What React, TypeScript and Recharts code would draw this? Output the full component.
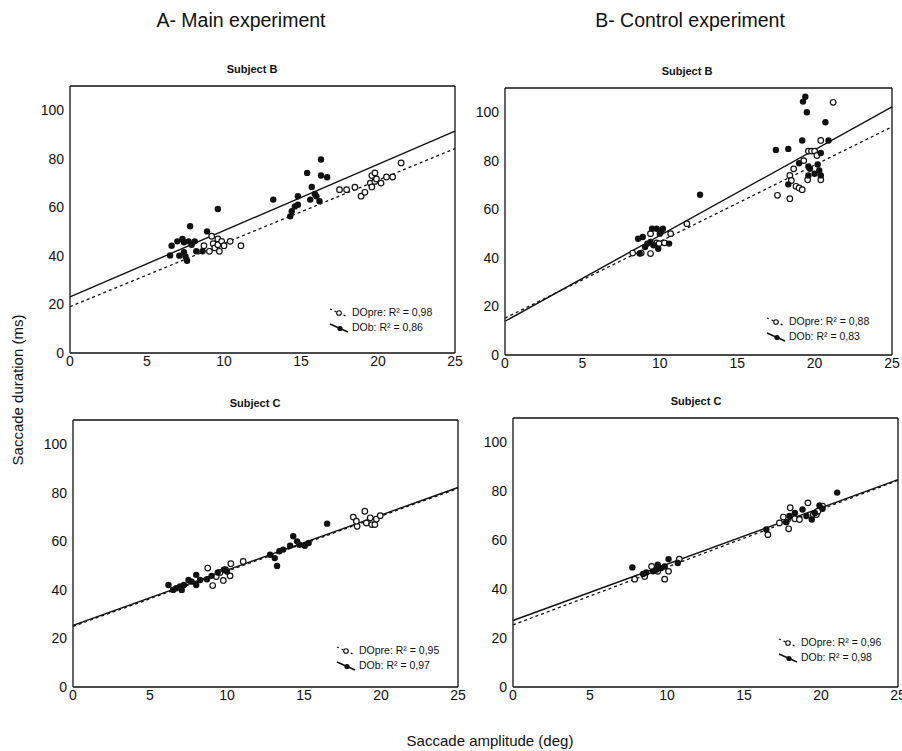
import {
  ReferenceLine,
  Scatter,
  ScatterChart,
  XAxis,
  YAxis,
} from "recharts";

const FONT = "'Liberation Sans', Arial, sans-serif";
const INK = "#111111";

const xTicks = [0, 5, 10, 15, 20, 25];
const yTicks = [0, 20, 40, 60, 80, 100];

// A - main experiment, subject B
const mainBPre = [
  [8.7, 44.2], [9.05, 41.9], [9.2, 48.1], [9.3, 45], [9.4, 43.3], [9.6, 47],
  [9.6, 44.6], [9.7, 41.9], [9.85, 46], [10.0, 44.2], [10.4, 46], [11.1, 44.2],
  [17.5, 67.3], [17.96, 67.3], [18.5, 68.3], [18.9, 64.6], [19.15, 66.2],
  [19.5, 70], [19.6, 73.1], [19.8, 74.2], [19.6, 68.4], [19.8, 70.7],
  [19.9, 71.7], [20.2, 70], [20.55, 72.5], [20.95, 72.5], [21.5, 78.3],
];
const mainBDob = [
  [6.5, 40.2], [6.6, 44.2], [6.97, 46], [7.3, 47], [7.4, 45.6], [7.1, 40.1],
  [7.4, 41.5], [7.5, 39.8], [7.6, 38], [7.7, 46], [7.8, 52.2], [7.9, 44.6],
  [8.1, 46], [8.2, 41.9], [8.6, 41.9], [8.9, 50.1], [9.6, 59.3], [13.2, 63.2],
  [14.3, 56.3], [14.4, 58.4], [14.6, 60.4], [14.8, 61.1], [14.8, 64.6],
  [15.4, 74.2], [15.7, 68.4], [15.6, 63.2], [15.9, 65.5], [16.0, 64.6],
  [16.2, 62.5], [16.3, 79.7], [16.3, 73.1], [16.7, 72.4],
];
const mainBPreFit = [[0, 19.1], [25, 84.2]];
const mainBDobFit = [[0, 23.1], [25, 91.4]];

// B - control experiment, subject B
const controlBPre = [
  [8.25, 42], [8.8, 42], [9.4, 41.8], [9.4, 50], [9.8, 46.2], [9.95, 45.9],
  [10.3, 46.2], [10.7, 50], [11.75, 54.1], [17.6, 65.8], [18.4, 64.4],
  [18.4, 74], [18.5, 71.9], [18.65, 76.7], [18.8, 69.5], [19.0, 68.8],
  [19.2, 68.1], [19.3, 80.1], [19.6, 84], [19.55, 72.2], [19.8, 84],
  [20.0, 84], [20.15, 82.2], [20.4, 88.4], [20.4, 72.2], [21.2, 104.1],
];
const controlBDob = [
  [8.6, 47.9], [8.9, 48.6], [8.7, 41.8], [9.05, 44.5], [9.2, 45.9],
  [9.4, 46.6], [9.5, 52], [9.6, 45.2], [9.8, 52], [9.9, 43.8], [10.0, 50],
  [10.2, 52], [10.1, 51.4], [10.6, 45.9], [12.6, 66], [17.5, 84.5],
  [18.3, 84.9], [18.3, 70.3], [19.2, 88.4], [19.25, 104.4], [19.4, 106.4],
  [19.5, 100], [19.0, 79], [19.6, 77.7], [19.6, 74], [19.7, 76.7],
  [20.2, 78.5], [20.3, 76], [20.4, 74], [20.4, 83.2], [20.7, 95.9],
  [20.9, 88.4], [20.0, 74.7],
];
const controlBPreFit = [[0, 15.2], [25, 94]];
const controlBDobFit = [[0, 13.9], [25, 102.2]];

// A - main experiment, subject C
const mainCPre = [
  [8.75, 49], [9.07, 41.8], [9.3, 45.5], [9.55, 47.2], [9.76, 43.9],
  [9.9, 48.3], [10.2, 45.8], [10.25, 50.8], [11.05, 51.7], [18.2, 70],
  [18.45, 66.2], [18.4, 68.3], [18.95, 72.4], [19.05, 67.6], [19.3, 69.7],
  [19.4, 66.9], [19.6, 66.9], [19.7, 69.2], [19.95, 70.6],
];
const mainCDob = [
  [6.2, 42], [6.5, 40], [6.7, 40.7], [6.95, 41.4], [7.06, 40], [7.2, 42],
  [7.5, 44.1], [7.7, 43.4], [8.0, 46.2], [8.0, 42], [8.25, 44.1], [8.7, 44.4],
  [9.0, 45.8], [9.4, 47.2], [9.8, 48.3], [10.0, 47.6], [12.8, 54.5],
  [13.1, 53.1], [13.25, 49.9], [13.4, 55.9], [13.65, 56.6], [14.1, 58.2],
  [14.3, 62.1], [14.55, 60], [14.7, 58.6], [15.05, 58.2], [15.3, 59.3],
  [16.5, 67.3],
];
const mainCPreFit = [[0, 25.0], [25, 81.8]];
const mainCDobFit = [[0, 25.4], [25, 82.2]];

// B - control experiment, subject C
const controlCPre = [
  [7.9, 44.1], [8.55, 45.2], [9.0, 49.3], [9.4, 47.3], [9.85, 44.1],
  [10.1, 47.3], [10.8, 52.3], [16.55, 62.3], [17.3, 67.1], [17.55, 69.5],
  [17.9, 64.7], [18.0, 73.3], [18.3, 68.8], [18.6, 68.5], [19.15, 75.3],
  [19.5, 70.5], [19.7, 70.5], [19.8, 71.9], [20.1, 74],
];
const controlCDob = [
  [7.75, 48.9], [8.45, 46.2], [8.65, 46.8], [9.1, 47.3], [9.3, 47.9],
  [9.4, 50], [9.6, 48.6], [9.85, 49.3], [10.1, 52.3], [10.7, 50.7],
  [16.45, 64.4], [17.75, 67.4], [17.95, 69.9], [18.3, 71.2], [18.8, 72.6],
  [19.05, 69.9], [19.4, 68.5], [19.6, 71.2], [19.9, 74.2], [20.1, 72.9],
  [21.05, 79.5],
];
const controlCPreFit = [[0, 25.4], [25, 84.5]];
const controlCDobFit = [[0, 27.2], [25, 84.8]];

const toPts = (arr: number[][]) => arr.map(([x, y]) => ({ x, y }));

const OpenDot = (p: any) => (
  <circle cx={p.cx} cy={p.cy} r={2.8} fill="#fff" stroke={INK} strokeWidth={1.2} />
);
const FilledDot = (p: any) => <circle cx={p.cx} cy={p.cy} r={3.2} fill={INK} />;

type PanelProps = {
  box: { left: number; top: number; right: number; bottom: number };
  title: string;
  titleX: number;
  pre: number[][];
  dob: number[][];
  preFit: number[][];
  dobFit: number[][];
  r2Pre: string;
  r2Dob: string;
  legend: { left: number; top: number };
};

const PAD_L = 45;
const PAD_R = 12;
const PAD_T = 30;
const PAD_B = 25;

function Panel({ box, title, titleX, pre, dob, preFit, dobFit, r2Pre, r2Dob, legend }: PanelProps) {
  const w = box.right - box.left + PAD_L + PAD_R;
  const h = box.bottom - box.top + PAD_T + PAD_B;
  const tick = { fontSize: 14, fill: INK, fontFamily: FONT };
  return (
    <>
      <div
        style={{
          position: "absolute",
          left: titleX - 60,
          width: 120,
          top: box.top - 23,
          textAlign: "center",
          fontSize: 11,
          fontWeight: "bold",
          fontFamily: FONT,
          color: INK,
        }}
      >
        {title}
      </div>
      <div style={{ position: "absolute", left: box.left - PAD_L, top: box.top - PAD_T }}>
        <ScatterChart
          width={w}
          height={h}
          margin={{ top: PAD_T, right: PAD_R, left: 0, bottom: 0 }}
        >
          <XAxis
            type="number"
            dataKey="x"
            domain={[0, 25]}
            ticks={xTicks}
            interval={0}
            height={PAD_B}
            tickLine={false}
            tickSize={2}
            tickMargin={1}
            axisLine={{ stroke: INK, strokeWidth: 1.3 }}
            tick={tick}
          />
          <YAxis
            type="number"
            dataKey="y"
            domain={[0, 110]}
            ticks={yTicks}
            interval={0}
            width={PAD_L}
            tickLine={false}
            tickSize={4}
            tickMargin={2}
            axisLine={{ stroke: INK, strokeWidth: 1.3 }}
            tick={tick}
          />
          <ReferenceLine y={110} stroke={INK} strokeWidth={1.3} />
          <ReferenceLine x={25} stroke={INK} strokeWidth={1.3} />
          <ReferenceLine
            segment={toPts(preFit)}
            stroke={INK}
            strokeWidth={1.3}
            strokeDasharray="3 3"
          />
          <ReferenceLine segment={toPts(dobFit)} stroke={INK} strokeWidth={1.4} />
          <Scatter data={toPts(pre)} shape={OpenDot} isAnimationActive={false} />
          <Scatter data={toPts(dob)} shape={FilledDot} isAnimationActive={false} />
        </ScatterChart>
      </div>
      <div
        style={{
          position: "absolute",
          left: legend.left,
          top: legend.top,
          fontFamily: FONT,
          fontSize: 10.5,
          color: INK,
          lineHeight: "15px",
        }}
      >
        <div style={{ display: "flex", alignItems: "center", gap: 3 }}>
          <svg width={20} height={12}>
            <line x1={1} y1={2} x2={19} y2={10} stroke={INK} strokeWidth={1.2} strokeDasharray="2 3" />
            <circle cx={10} cy={6} r={2.3} fill="#fff" stroke={INK} strokeWidth={1.1} />
          </svg>
          <span>DOpre: R² = {r2Pre}</span>
        </div>
        <div style={{ display: "flex", alignItems: "center", gap: 3 }}>
          <svg width={20} height={12}>
            <line x1={1} y1={2} x2={19} y2={10} stroke={INK} strokeWidth={1.5} />
            <circle cx={11} cy={6.5} r={2.6} fill={INK} />
          </svg>
          <span>DOb: R² = {r2Dob}</span>
        </div>
      </div>
    </>
  );
}

export default function App() {
  return (
    <div
      style={{
        position: "absolute",
        left: 0,
        top: 0,
        width: 902,
        height: 751,
        background: "#fff",
        fontFamily: FONT,
        color: INK,
        overflow: "hidden",
      }}
    >
      <div style={{ position: "absolute", top: 9, left: 121, width: 240, textAlign: "center", fontSize: 19.5 }}>
        A- Main experiment
      </div>
      <div style={{ position: "absolute", top: 9, left: 570, width: 240, textAlign: "center", fontSize: 19.5 }}>
        B- Control experiment
      </div>

      <Panel
        box={{ left: 70, top: 86, right: 455, bottom: 353 }}
        title="Subject B"
        titleX={252}
        pre={mainBPre}
        dob={mainBDob}
        preFit={mainBPreFit}
        dobFit={mainBDobFit}
        r2Pre="0,98"
        r2Dob="0,86"
        legend={{ left: 329, top: 305 }}
      />
      <Panel
        box={{ left: 505, top: 88, right: 892, bottom: 355 }}
        title="Subject B"
        titleX={687}
        pre={controlBPre}
        dob={controlBDob}
        preFit={controlBPreFit}
        dobFit={controlBDobFit}
        r2Pre="0,88"
        r2Dob="0,83"
        legend={{ left: 766, top: 314 }}
      />
      <Panel
        box={{ left: 73, top: 420, right: 458, bottom: 687 }}
        title="Subject C"
        titleX={255}
        pre={mainCPre}
        dob={mainCDob}
        preFit={mainCPreFit}
        dobFit={mainCDobFit}
        r2Pre="0,95"
        r2Dob="0,97"
        legend={{ left: 336, top: 643 }}
      />
      <Panel
        box={{ left: 513, top: 418, right: 898, bottom: 687 }}
        title="Subject C"
        titleX={696}
        pre={controlCPre}
        dob={controlCDob}
        preFit={controlCPreFit}
        dobFit={controlCDobFit}
        r2Pre="0,96"
        r2Dob="0,98"
        legend={{ left: 778, top: 635 }}
      />

      <div
        style={{
          position: "absolute",
          left: 17,
          top: 390,
          transform: "translate(-50%, -50%) rotate(-90deg)",
          whiteSpace: "nowrap",
          fontSize: 15,
        }}
      >
        Saccade duration (ms)
      </div>
      <div
        style={{
          position: "absolute",
          left: 370,
          width: 240,
          top: 732,
          textAlign: "center",
          fontSize: 15,
        }}
      >
        Saccade amplitude (deg)
      </div>
    </div>
  );
}
